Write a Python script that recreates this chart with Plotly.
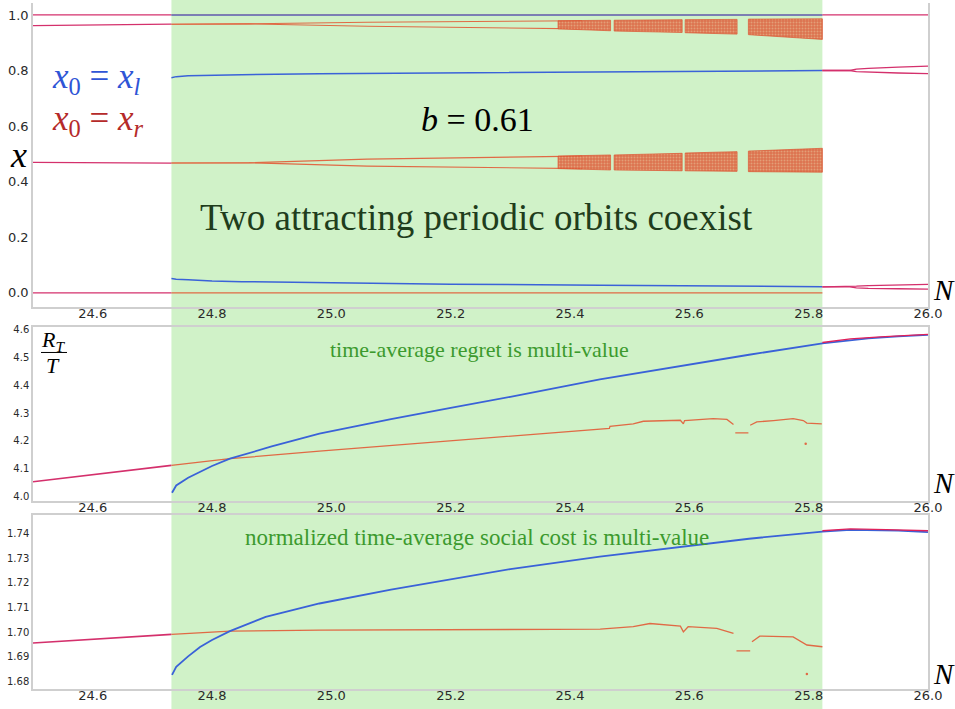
import plotly.graph_objects as go

# ---------------- data ----------------
N_RANGE = [24.5, 26.0]
N_GREEN = [24.732, 25.823]
x_tickvals = [24.6, 24.8, 25.0, 25.2, 25.4, 25.6, 25.8, 26.0]
x_ticktext = ["24.6", "24.8", "25.0", "25.2", "25.4", "25.6", "25.8", "26.0"]
top_yticks = [0.0, 0.2, 0.4, 0.6, 0.8, 1.0]
mid_yticks = [4.0, 4.1, 4.2, 4.3, 4.4, 4.5, 4.6]
bot_yticks = [1.68, 1.69, 1.70, 1.71, 1.72, 1.73, 1.74]

# --- top panel: orbit points x vs N ---
pre_N = [24.5, 24.732]
pre_one = [1.0, 1.0]
pre_hi = [0.9616, 0.9667]
pre_mid = [0.4695, 0.467]
pre_zero = [0.0, 0.0]

green_N = [24.732, 25.823]
green_one = [1.0, 1.0]
green_zero = [0.0, 0.0]

branch_N = [24.732, 24.862, 25.06, 25.28, 25.42]
hi_up = [0.9667, 0.968, 0.9737, 0.977, 0.979]
hi_dn = [0.9667, 0.968, 0.9593, 0.955, 0.950]
mid_up = [0.467, 0.468, 0.481, 0.487, 0.492]
mid_dn = [0.467, 0.468, 0.456, 0.452, 0.447]

# chaotic bands, split by periodic windows (start/end pairs)
band_N = [25.38, 25.468, 25.474, 25.588, 25.593, 25.680, 25.699, 25.823]
band_hi_top = [0.979, 0.981, 0.981, 0.983, 0.983, 0.984, 0.985, 0.986]
band_hi_bot = [0.950, 0.943, 0.942, 0.937, 0.936, 0.931, 0.929, 0.912]
band_mid_top = [0.492, 0.496, 0.496, 0.502, 0.503, 0.508, 0.510, 0.520]
band_mid_bot = [0.447, 0.442, 0.442, 0.439, 0.439, 0.437, 0.436, 0.434]

blue_N = [24.732, 24.74, 24.76, 24.80, 24.85, 24.98, 25.2, 25.45, 25.6, 25.823]
blue_up = [0.774, 0.778, 0.781, 0.783, 0.785, 0.7885, 0.792, 0.7957, 0.797, 0.800]
blue_dn = [0.0513, 0.049, 0.047, 0.042, 0.040, 0.036, 0.031, 0.0275, 0.025, 0.0215]

post_N = [25.823, 25.869, 25.88, 25.90, 25.95, 26.0]
post_up_a = [0.800, 0.800, 0.805, 0.808, 0.8125, 0.816]
post_up_b = [0.800, 0.800, 0.796, 0.794, 0.791, 0.789]
post_lo_a = [0.0215, 0.0215, 0.024, 0.026, 0.028, 0.030]
post_lo_b = [0.0215, 0.0215, 0.018, 0.016, 0.0145, 0.013]
post_one_N = [25.823, 26.0]
post_one = [1.0, 1.0]

# --- middle panel: time-average regret R_T/T ---
reg_pre_N = [24.5, 24.732]
reg_pre = [4.0536, 4.112]
reg_red_N = [24.732, 24.83, 24.98, 25.2, 25.35, 25.466, 25.467, 25.506, 25.523, 25.585, 25.590,
             25.592, 25.640, 25.663, 25.674, None, 25.677, 25.699, None, 25.702, 25.713,
             25.741, 25.774, 25.791, 25.797, 25.822]
reg_red = [4.112, 4.136, 4.163, 4.200, 4.226, 4.245, 4.2525, 4.2608, 4.2704, 4.274, 4.261,
           4.273, 4.280, 4.277, 4.2585, None, 4.2286, 4.2286, None, 4.256, 4.268,
           4.273, 4.280, 4.273, 4.264, 4.261]
reg_out_N = [25.795]
reg_out = [4.19]
reg_blue_N = [24.733, 24.74, 24.76, 24.78, 24.80, 24.83, 24.90, 24.98, 25.10, 25.20, 25.30,
              25.45, 25.60, 25.70, 25.823, 25.87, 25.90, 25.95, 26.0]
reg_blue = [4.014, 4.040, 4.068, 4.089, 4.110, 4.136, 4.180, 4.226, 4.278, 4.318, 4.358,
            4.421, 4.474, 4.509, 4.550, 4.562, 4.568, 4.575, 4.580]
reg_post_N = [25.823, 25.87, 25.92, 26.0]
reg_post = [4.553, 4.566, 4.573, 4.582]

# --- bottom panel: normalized time-average social cost ---
sc_pre_N = [24.5, 24.732]
sc_pre = [1.6956, 1.6991]
sc_red_N = [24.732, 24.83, 24.98, 25.2, 25.4506, 25.506, 25.534, 25.585, 25.590, 25.598,
            25.646, 25.674, None, 25.679, 25.702, None, 25.705, 25.718, 25.774, 25.797, 25.823]
sc_red = [1.6991, 1.7004, 1.7008, 1.7009, 1.7012, 1.7022, 1.7035, 1.7024, 1.7001, 1.7022,
          1.7015, 1.6995, None, 1.6924, 1.6924, None, 1.6961, 1.6984, 1.6981, 1.6948, 1.6941]
sc_out_N = [25.797]
sc_out = [1.6831]
sc_blue_N = [24.733, 24.74, 24.76, 24.78, 24.80, 24.83, 24.89, 24.98, 25.10, 25.20, 25.30,
             25.45, 25.60, 25.70, 25.823, 25.87, 25.95, 26.0]
sc_blue = [1.6827, 1.6860, 1.6902, 1.6940, 1.6968, 1.7004, 1.7062, 1.7116, 1.7172, 1.7215,
           1.7255, 1.7306, 1.7350, 1.7378, 1.7407, 1.7414, 1.7411, 1.7405]
sc_post_N = [25.823, 25.87, 25.93, 26.0]
sc_post = [1.7410, 1.7418, 1.7415, 1.7410]

# ---------------- styles ----------------
GREEN_BG = "#d0f2c8"
BLUE = "#3a62d8"
ORANGE = "#e06a45"
PINK = "#d4306c"
AXIS_COL = "#cfcfcf"
TICK_COL = "#2a2a2a"
SERIF = "Liberation Serif"

fig = go.Figure()


def line(xs, ys, color, width, xa="x", ya="y", opacity=1.0):
    fig.add_trace(go.Scatter(x=xs, y=ys, mode="lines", xaxis=xa, yaxis=ya,
                             line=dict(color=color, width=width), opacity=opacity,
                             showlegend=False, hoverinfo="skip", connectgaps=False))


# ---- top panel ----
for ys in (pre_one, pre_hi, pre_mid, pre_zero):
    line(pre_N, ys, PINK, 1.3)
line(green_N, green_one, BLUE, 1.4)
line(green_N, green_one, ORANGE, 1.0, opacity=0.45)
line(green_N, green_zero, ORANGE, 1.2)
for ys in (hi_up, hi_dn, mid_up, mid_dn):
    line(branch_N, ys, ORANGE, 1.1)

# chaotic bands as speckled filled segments between window gaps
for top, bot in ((band_hi_top, band_hi_bot), (band_mid_top, band_mid_bot)):
    for i in range(0, len(band_N), 2):
        s, e = band_N[i], band_N[i + 1]
        fig.add_trace(go.Scatter(
            x=[s, e, e, s, s], y=[top[i], top[i + 1], bot[i + 1], bot[i], top[i]],
            mode="lines", fill="toself",
            fillpattern=dict(shape=".", fgcolor="rgba(236,214,170,0.9)",
                             bgcolor="rgba(222,92,56,0.85)", size=3, solidity=0.35),
            line=dict(color="rgba(220,85,50,0.9)", width=0.8),
            xaxis="x", yaxis="y", showlegend=False, hoverinfo="skip"))

line(blue_N, blue_up, BLUE, 1.5)
line(blue_N, blue_dn, BLUE, 1.5)
for ys in (post_up_a, post_up_b, post_lo_a, post_lo_b):
    line(post_N, ys, PINK, 1.3)
line(post_one_N, post_one, PINK, 1.3)

# ---- middle panel ----
line(reg_pre_N, reg_pre, PINK, 1.6, "x2", "y2")
line(reg_red_N, reg_red, ORANGE, 1.3, "x2", "y2")
fig.add_trace(go.Scatter(x=reg_out_N, y=reg_out, mode="markers", xaxis="x2", yaxis="y2",
                         marker=dict(color=ORANGE, size=2.5), showlegend=False, hoverinfo="skip"))
line(reg_blue_N, reg_blue, BLUE, 1.8, "x2", "y2")
line(reg_post_N, reg_post, "#e0205a", 1.4, "x2", "y2")

# ---- bottom panel ----
line(sc_pre_N, sc_pre, PINK, 1.6, "x3", "y3")
line(sc_red_N, sc_red, ORANGE, 1.3, "x3", "y3")
fig.add_trace(go.Scatter(x=sc_out_N, y=sc_out, mode="markers", xaxis="x3", yaxis="y3",
                         marker=dict(color=ORANGE, size=2.5), showlegend=False, hoverinfo="skip"))
line(sc_blue_N, sc_blue, BLUE, 1.8, "x3", "y3")
line(sc_post_N, sc_post, "#e0205a", 1.4, "x3", "y3")

# ---------------- layout ----------------
W, H = 955, 709
ML, MR, MT, MB = 33, 27, 0, 20
PW, PH = W - ML - MR, H - MT - MB


def py(p):  # pixel row -> paper y
    return (PH + MT - p) / PH


def px(p):  # pixel col -> paper x
    return (p - ML) / PW


xcommon = dict(range=N_RANGE, tickvals=x_tickvals, ticktext=x_ticktext, showgrid=False,
               zeroline=False, showline=True, linecolor=AXIS_COL, linewidth=1.5, ticks="",
               ticklabelstandoff=-6,
               tickfont=dict(family="DejaVu Sans", size=13, color=TICK_COL))
ycommon = dict(showgrid=False, zeroline=False, showline=True, linecolor=AXIS_COL,
               linewidth=1.5, ticks="", mirror=True)

fig.update_layout(
    width=W, height=H, margin=dict(l=ML, r=MR, t=MT, b=MB),
    paper_bgcolor="white", plot_bgcolor="rgba(0,0,0,0)",
    showlegend=False,
    xaxis=dict(xcommon, anchor="y", domain=[0, 1]),
    yaxis=dict(ycommon, anchor="x", domain=[py(305), 1.0], range=[-0.05, 1.043],
               tickvals=top_yticks, ticktext=["0.0", "0.2", "0.4", "0.6", "0.8", "1.0"],
               tickfont=dict(family="DejaVu Sans", size=13, color=TICK_COL)),
    xaxis2=dict(xcommon, anchor="y2", domain=[0, 1], mirror=True),
    yaxis2=dict(ycommon, anchor="x2", domain=[py(500), py(325)], range=[3.985, 4.61],
                tickvals=mid_yticks, ticktext=["4.0", "4.1", "4.2", "4.3", "4.4", "4.5", "4.6"],
                tickfont=dict(family="DejaVu Sans", size=10, color=TICK_COL)),
    xaxis3=dict(xcommon, anchor="y3", domain=[0, 1], mirror=True),
    yaxis3=dict(ycommon, anchor="x3", domain=[0, py(514)], range=[1.677, 1.7475],
                tickvals=bot_yticks,
                ticktext=["1.68", "1.69", "1.70", "1.71", "1.72", "1.73", "1.74"],
                tickfont=dict(family="DejaVu Sans", size=10, color=TICK_COL)),
)

# green coexistence region spanning all panels
fig.add_shape(type="rect", xref="x", yref="paper", x0=N_GREEN[0], x1=N_GREEN[1],
              y0=-0.06, y1=1.05, fillcolor=GREEN_BG, line_width=0, layer="below")

# fraction bar for R_T / T
fig.add_shape(type="line", xref="paper", yref="paper", x0=px(41), x1=px(67),
              y0=py(351), y1=py(351), line=dict(color="black", width=1))

ann = []


def text(t, x, y, size, color="black", xanchor="center", yanchor="middle"):
    ann.append(dict(text=t, x=px(x), y=py(y), xref="paper", yref="paper", showarrow=False,
                    xanchor=xanchor, yanchor=yanchor,
                    font=dict(family=SERIF, size=size, color=color)))


text("<i>x</i><sub>0</sub> = <i>x<sub>l</sub></i>", 50, 76, 35, "#2f55d6", xanchor="left")
text("<i>x</i><sub>0</sub> = <i>x<sub>r</sub></i>", 50, 118, 35, "#b52a2a", xanchor="left")
text("<i>x</i>", 18, 153, 36)
text("<i>b</i> = 0.61", 477, 117, 34)
text("Two attracting periodic orbits coexist", 476, 215, 37, "#1f3d1c")
text("<i>N</i>", 944, 288, 29)
text("<i>N</i>", 944, 482, 29)
text("<i>N</i>", 944, 674, 29)
text("<i>R</i><sub><i>T</i></sub>", 53, 339, 22)
text("<i>T</i>", 53, 364, 22)
text("time-average regret is multi-value", 479, 348, 22, "#3c9a2e")
text("normalized time-average social cost is multi-value", 477, 537, 23, "#3c9a2e")
fig.update_layout(annotations=ann)

fig.write_html("out.html")
